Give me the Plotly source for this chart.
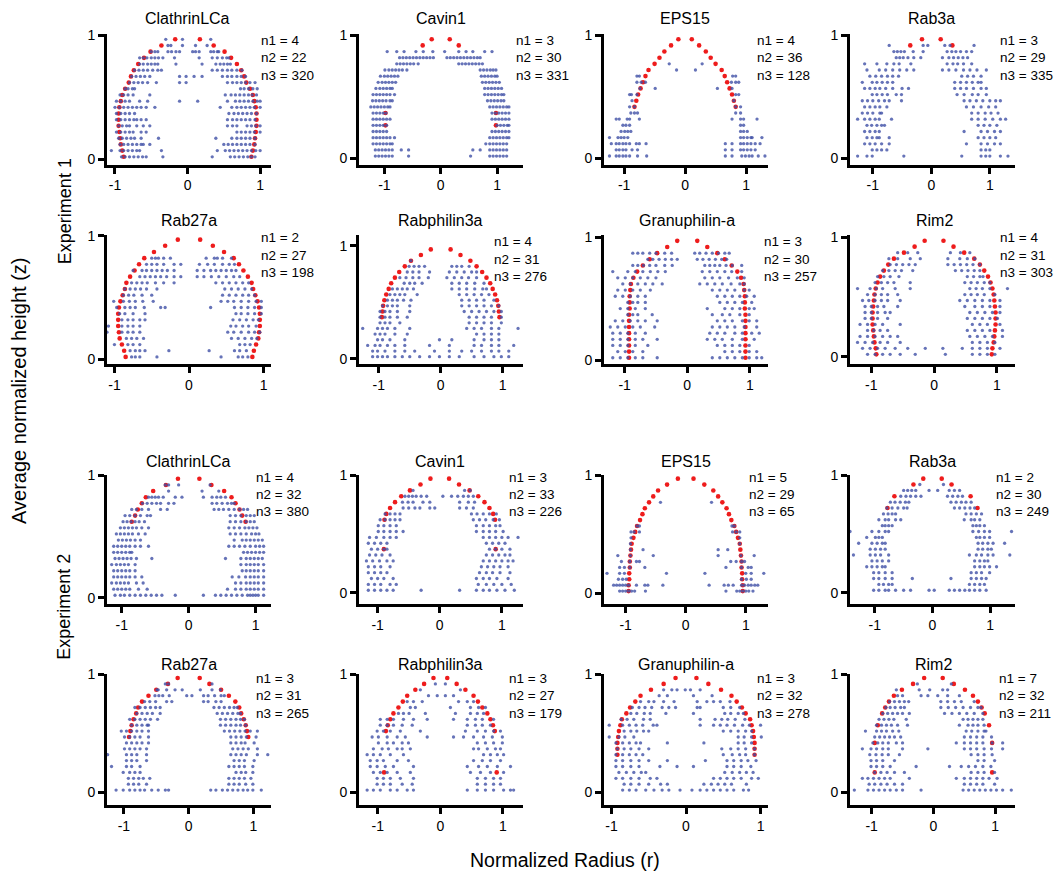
import plotly.graph_objects as go

# ---------------- data ----------------
Z_LEVELS = [0.02, 0.07, 0.12, 0.17, 0.22, 0.27, 0.32, 0.37, 0.42, 0.47,
            0.52, 0.57, 0.62, 0.67, 0.72, 0.77, 0.82, 0.87, 0.92, 0.97]

TITLES = ["ClathrinLCa", "Cavin1", "EPS15", "Rab3a",
          "Rab27a", "Rabphilin3a", "Granuphilin-a", "Rim2",
          "ClathrinLCa", "Cavin1", "EPS15", "Rab3a",
          "Rab27a", "Rabphilin3a", "Granuphilin-a", "Rim2"]

N1 = [4, 3, 4, 3, 2, 4, 3, 4, 4, 3, 5, 2, 3, 3, 3, 7]
N2 = [22, 30, 36, 29, 27, 31, 30, 31, 32, 33, 29, 30, 31, 27, 32, 32]
N3 = [320, 331, 128, 335, 198, 276, 257, 303, 380, 226, 65, 249, 265, 179, 278, 211]

X_RANGES = [[-1.11, 1.15], [-1.45, 1.46], [-1.33, 1.36], [-1.39, 1.43],
            [-1.10, 1.10], [-1.32, 1.33], [-1.33, 1.29], [-1.34, 1.29],
            [-1.22, 1.23], [-1.30, 1.34], [-1.36, 1.37], [-1.43, 1.43],
            [-1.26, 1.27], [-1.30, 1.32], [-1.10, 1.10], [-1.35, 1.32]]
Y_RANGES = [[-0.043, 1.01], [-0.049, 1.01], [-0.05, 1.01], [-0.049, 1.01],
            [-0.037, 1.01], [-0.044, 1.10], [-0.03, 1.02], [-0.06, 1.02],
            [-0.054, 1.0], [-0.10, 1.0], [-0.092, 1.0], [-0.10, 1.0],
            [-0.104, 1.0], [-0.104, 1.0], [-0.104, 1.0], [-0.104, 1.0]]

# red profile: radius (x100) per z level, bottom to top (drawn at -r and +r);
# None where no red mark is visible
N_ = None
RED_R = [
    [88, 90, 92, 93, 94, 95, 95, 95, 94, 92, 90, 86, 81, 78, 74, 68, 60, 51, 36, 17],
    [N_, N_, N_, N_, N_, 98, N_, 98, N_, N_, N_, N_, N_, N_, N_, N_, N_, N_, 32, 16],
    [N_, N_, N_, N_, N_, N_, N_, N_, 83, 80, 77, 73, 69, 65, 60, 50, 42, 34, 23, 11],
    [N_, N_, N_, N_, N_, N_, N_, N_, N_, N_, N_, N_, N_, N_, N_, N_, N_, N_, 36, 16],
    [85, 87, 90, 93, 94, 95, 95, 95, 94, 92, 89, 86, 84, 79, 73, 67, 60, 47, 32, 15],
    [N_, N_, N_, N_, N_, N_, N_, 95, 94, 93, 91, 88, 84, 80, 74, 67, 58, 48, 32, 16],
    [93, 93, 93, 93, 93, 93, 93, 93, 92, 92, 92, 91, 90, 86, 80, 71, 60, 48, 32, 16],
    [92, 93, 95, 96, 97, 98, 98, 98, 97, 96, 95, 93, 90, 86, 80, 73, 64, 48, 31, 15],
    [N_, N_, N_, N_, N_, N_, N_, N_, N_, N_, N_, N_, 85, 80, 76, 70, 64, 53, 34, 16],
    [N_, N_, N_, N_, N_, N_, N_, 90, N_, N_, N_, N_, 89, 86, 80, 72, 62, 48, 31, 15],
    [95, 95, 94, 94, 93, 93, 92, 91, 90, 87, 84, 81, 76, 72, 68, 61, 54, 46, 31, 13],
    [N_, N_, N_, N_, N_, N_, N_, N_, N_, N_, N_, N_, N_, N_, 78, N_, 66, N_, 33, 16],
    [N_, N_, N_, N_, N_, N_, N_, N_, N_, 92, 90, 88, 85, 81, 78, 72, 62, 50, 32, 17],
    [N_, N_, N_, 90, N_, N_, N_, N_, N_, N_, 87, 84, 80, 75, 67, 60, 53, 40, 26, 11],
    [N_, N_, N_, N_, N_, N_, 92, 92, 92, 91, 90, 88, 86, 80, 75, 68, 61, 47, 30, 14],
    [N_, N_, N_, 95, N_, N_, N_, N_, 95, N_, N_, 90, N_, 83, 78, 72, 64, 51, 33, 15],
]

# blue points: per z level (bottom to top), radius values x100
CLATHRIN_E1 = [
    "-91 -86 -80 -74 -68 -62 -57 -34 34 59 65 71 77 83 88 93",
    "-105 -93 -88 -82 -76 -70 -66 -36 41 52 58 64 70 76 82 88 94 100",
    "-93 -88 -82 -76 -70 -64 -61 -52 50 56 62 68 74 80 86 93",
    "-95 -90 -84 -78 -73 -64 -40 39 61 68 74 80 86 93",
    "-98 -92 -86 -80 -75 -64 -57 68 74 80 86 92 100",
    "-95 -90 -84 -80 -70 -61 -52 55 62 68 82 88 94 100",
    "-98 -92 -86 -80 -74 -70 -64 -57 55 62 68 74 80 86 93",
    "-98 -92 -86 -80 -73 57 64 70 76 82 88 95",
    "-100 -94 -88 -82 -76 -70 -64 -57 -45 45 61 68 74 80 86 92 100",
    "-98 -92 -86 -80 -66 -55 -11 14 55 66 72 78 84 90 96 100",
    "-93 -88 -82 -75 -52 52 60 66 72 78 84 89 95",
    "-86 -82 -76 -73 73 78 84 90 96",
    "-80 -74 -68 -62 -55 -43 -11 -2 55 62 68 74 80 86 93",
    "-77 -71 -65 -59 -52 -11 -2 9 20 48 55 61 68 74 80",
    "-73 -67 -61 -55 -48 -41 -36 34 41 48 55 61 68 75",
    "-66 -61 -55 -50 -45 -41 -16 20 39 45 50 55 59",
    "-66 -61 -56 -50 -45 -40 -34 -18 16 34 41 48 54 57",
    "-50 -45 -41 -27 -22 -16 -11 7 11 16 32 36 41 43",
    "-27 -23 -7 11 27",
    "-30 -7 32",
]
CAVIN_E1 = [
    "-116 -110 -104 -98 -92 -86 -57 53 87 93 99 105 111 117",
    "-116 -110 -104 -98 -92 -86 -70 -57 57 70 87 93 99 105 111 117",
    "-120 -114 -108 -102 -96 -90 -86 80 87 93 99 105 111 117",
    "-120 -114 -108 -102 -96 -90 -82 87 93 99 105 111 117 121",
    "-120 -114 -108 -102 -96 91 97 103 109 115 121",
    "-120 -114 -108 -102 -96 100 106 112 118 121",
    "-120 -114 -108 -102 -96 -90 91 97 103 109 115 121",
    "-120 -114 -108 -102 -97 91 97 103 109 115 121",
    "-124 -118 -112 -106 -100 -94 -90 87 93 99 105 111 117 121",
    "-121 -115 -109 -103 -97 -90 -86 83 89 95 101 107 112",
    "-120 -114 -108 -102 -96 -90 -82 78 84 90 96 102 108 112",
    "-115 -108 -102 -96 -90 -86 78 84 90 96 102 108",
    "-111 -104 -98 -92 -86 -80 74 80 86 92 98 104",
    "-107 -100 -94 -88 -82 -76 72 78 84 90 96 100",
    "-99 -92 -86 -80 -74 -68 -60 70 76 82 88 93 98",
    "-78 -72 -66 -60 -54 -48 -40 32 38 44 50 56 62 68 74",
    "-73 -67 -61 -55 -49 -43 -37 -31 -25 -19 -13 11 17 23 29 35 41 47 53 59 65 70",
    "-95 -78 -65 -44 -31 -14 7 32 45 57 78 91",
    "",
    "",
]
EPS15_E1 = [
    "-124 -113 -108 -102 -97 -91 -78 -63 66 77 93 99 105 110 120 131",
    "-113 -108 -102 -97 -87 -78 66 77 91 96 102 108 115",
    "-121 -113 -108 -102 -97 -91 -80 -75 -64 66 77 91 96 102 108 115 123",
    "-124 -110 -105 -100 -94 91 96 102 108 110 126",
    "-105 -99 -94 -89 91 96 102",
    "-102 -97 -91 91 96",
    "-113 -108 -95 -91 -75 77 91 96 118",
    "-89 -83 -78 83 91",
    "-91 -83 83 91",
    "-87 80",
    "-91 -88 -79 83 88",
    "-74 -49 53 77",
    "-79 -72 -65 76 83 88",
    "-79 -75 78 83",
    "-14 17",
    "-26 28",
    "", "", "", "",
]
RAB3A_E1 = [
    "-126 -110 -101 -47 52 85 93 100 118 131",
    "-101 -93 -85 -76 85 93 100",
    "-114 -105 -96 -85 -72 60 85 96 108 118",
    "-110 -101 -93 -89 -72 80 90 100 110",
    "-114 -105 -96 -89 56 85 96 108 118",
    "-110 -102 -93 -85 -80 80 90 100 112",
    "-126 -114 -105 -96 -89 -68 69 80 92 105 118 127",
    "-118 -109 -100 -88 -85 69 80 92 102 114",
    "-114 -105 -96 -88 -76 60 72 85 98 110",
    "-118 -109 -100 -90 -80 -72 -51 56 66 77 88 100 110 118",
    "-101 -93 -84 -75 -60 -51 44 56 70 80 94",
    "-114 -105 -96 -88 -78 -66 -50 -39 40 50 60 72 85 94",
    "-118 -101 -93 -84 -75 -66 40 50 60 70 80 85",
    "-105 -95 -85 -75 -66 -56 52 62 72 85",
    "-110 -89 -78 -66 -54 -42 -30 19 30 42 55 66 78 94",
    "-114 -93 -76 -64 -55 -35 27 37 45 55 69",
    "-60 -54 -48 -40 -30 -18 19 30 38 46 54 62",
    "-64 -58 -52 -46 -31 -14 27 35 42 50 60 69",
    "-72 -14 -6 23 32 73",
    "",
]
RAB27A_E1 = [
    "-77 -72 -66 -43 43 66 72 79",
    "-79 -72 -66 -59 -27 27 61 68 77",
    "-100 -82 -75 -66 68 75 82",
    "-84 -77 -70 -61 57 66 75 84 91",
    "-110 -90 -82 -75 -66 52 60 70 80 88 95",
    "-108 -90 -82 -75 -66 56 63 72 80 90",
    "-90 -82 -75 -66 -59 59 68 77 86 93",
    "-93 -86 -75 -59 63 70 79 88 97",
    "-97 -86 -79 -72 -60 -38 -32 29 61 70 79 88 97",
    "-101 -88 -80 -72 -62 -48 43 52 60 70 80 90 97",
    "-88 -81 -74 -63 -50 45 54 63 72 80 88",
    "-86 -79 -72 -65 -57 -43 48 57 66 75 84",
    "-77 -70 -63 -56 -45 -34 -20 36 45 54 63 72 80",
    "-66 -59 -52 -45 -38 -30 -20 -11 11 20 30 40 50 60 68",
    "-75 -63 -57 -50 -43 -36 -29 -20 11 20 29 36 43 50 57 63",
    "-57 -50 -43 -34 -20 -11 14 25 34 45 54 61",
    "-50 -45 -41 -34 -25 23 34 38 45 57",
    "", "", "",
]
RABPHILIN_E1 = [
    "-110 -102 -94 -86 -74 -62 -50 -34 -18 -2 14 30 54 70 86 98 110",
    "-110 -102 -90 -74 -58 -42 -10 14 34 50 66 82 94 110",
    "-118 -106 -98 -86 -74 -58 -18 14 54 66 82 94 118",
    "-102 -94 -82 -58 -2 18 54 70 82 94",
    "-106 -98 -90 -74 -54 58 70 82 94",
    "-126 -102 -94 -86 -74 -50 42 54 66 82 94 125",
    "-98 -90 -82 -66 46 58 70 82 98",
    "-98 -90 -82 -70 -54 46 58 70 82 98",
    "-98 -90 -82 -70 -50 38 50 62 74 86 98",
    "-94 -86 -78 -70 -50 34 46 58 70 82 94",
    "-86 -78 -70 -60 -48 34 46 58 70 86",
    "-82 -74 -66 -58 -38 30 42 54 66 78",
    "-78 -70 -62 -54 -44 18 30 42 55 68 74",
    "-59 -50 -42 -30 18 30 42 55 70",
    "-66 -56 -45 -35 -20 10 22 34 45 58",
    "-54 -45 -35 -18 14 26 38 50 58",
    "-51 -43 -35 -26 18 26 34 46",
    "-48",
    "", "",
]
GRANUPHILIN_E1 = [
    "-119 -107 -95 -83 -71 -48 40 52 64 76 88 99 111 119",
    "-111 -99 -87 -71 60 72 84 99 111",
    "-119 -107 -95 -83 -63 48 60 72 84 99",
    "-119 -107 -95 -83 -71 -48 32 44 56 72 88 107",
    "-119 -107 -95 -83 -67 36 48 60 76 88 103 115",
    "-123 -111 -99 -87 -75 -52 40 52 64 76 91 111",
    "-115 -103 -91 -79 -67 -48 48 60 72 88 99 111",
    "-95 -87 -79 -56 40 56 68 84 99",
    "-107 -95 -83 -67 32 60 72 84 99 107",
    "-95 -87 -79 -67 52 64 76 88 103",
    "-115 -103 -91 -79 -67 48 60 72 84 95 107",
    "-111 -99 -87 -75 -59 40 52 64 76 91 99",
    "-103 -91 -79 -67 -55 -40 20 32 44 56 70 84 91",
    "-111 -99 -87 -75 -63 -50 28 40 52 66 80 91",
    "-119 -95 -83 -71 -59 -47 -35 24 36 48 60 71 87",
    "-87 -79 -70 -60 -50 -36 -24 28 36 44 52 62 72 87",
    "-63 -55 -45 -35 -25 -16 16 25 35 45 55 63",
    "-87 -79 -71 -60 -50 -36 -25 12 20 30 40 50 60 67",
    "", "",
]
RIM2_E1 = [
    "-106 -94 -82 -70 -54 -30 18 61 73 85 97",
    "-114 -102 -90 -78 -62 -42 -14 14 45 61 73 85 105",
    "-122 -110 -98 -86 -74 -54 61 73 85 97",
    "-118 -106 -94 -82 -70 -58 57 69 81 93 109",
    "-106 -96 -86 -74 53 65 77 89 109",
    "-118 -106 -94 -82 -54 61 73 85 105",
    "-110 -100 -90 -74 53 65 77 89 101",
    "-110 -100 -90 -78 -70 57 69 81 93 105",
    "-110 -100 -90 -80 -58 49 65 77 89 105",
    "-114 -104 -94 -84 -74 -54 41 53 65 77 89 105",
    "-106 -94 -84 -74 -58 49 59 69 80 97",
    "-122 -102 -92 -82 -62 -38 57 67 77 89 117",
    "-94 -84 -74 -64 -38 49 59 69 80 89",
    "-90 -80 -70 -56 53 63 73 78",
    "-82 -72 -62 -52 -34 34 44 54 64 73",
    "-70 -60 -50 -40 -30 22 32 42 52 62 73",
    "-72 -58 -38 -22 22 41 53 65",
    "-58 -42 -26 26 42 57",
    "", "",
]
CLATHRIN_E2 = [
    "-110 -102 -96 -88 -80 -72 -64 -56 -48 -40 -20 22 40 48 56 64 72 80 88 92 96 100 104 112",
    "-112 -106 -100 -94 -88 -75 -62 58 70 78 86 92 98 104 112",
    "-115 -108 -102 -96 -90 -78 -68 70 78 86 92 98 104 112",
    "-112 -106 -100 -94 -88 -80 -70 65 75 85 92 98 104 112",
    "-112 -106 -100 -94 -88 -80 80 86 92 98 104 112",
    "-115 -108 -102 -96 -90 -80 78 86 92 98 104 112",
    "-110 -104 -98 -92 -86 -78 -55 55 78 86 92 98 104 110",
    "-112 -106 -100 -94 -88 -85 82 88 94 100 106 112",
    "-112 -106 -100 -94 -88 -80 -72 -60 60 68 76 84 92 100 106 112",
    "-105 -99 -93 -87 -80 -72 68 80 86 92 98 104 110",
    "-108 -102 -96 -90 -84 -75 -65 62 70 78 86 94 100 105",
    "-102 -96 -90 -84 -78 -70 -60 60 68 76 84 90 96 102",
    "-98 -92 -86 -80 -74 -66 62 70 78 86 92 98",
    "-95 -88 -80 -72 -62 -57 62 70 78 86 92 98",
    "-85 -78 -70 -60 -42 -32 38 45 52 60 68 76 82 88",
    "-69 -62 -55 -48 -42 -30 -22 35 42 50 58 64 68",
    "-60 -55 -50 -45 -38 -20 -10 22 35 42 48 55",
    "-30 20 45",
    "-35 -30 -15 32",
    "",
]
CAVIN_E2 = [
    "-115 -105 -95 -85 -75 -30 32 59 70 80 92 105 120",
    "-115 -105 -95 -80 -70 62 75 87 100 115",
    "-110 -100 -90 -75 59 70 80 92 110",
    "-115 -105 -95 -85 64 75 85 97 113",
    "-115 -105 -95 -80 67 77 87 97 110",
    "-118 -108 -97 -85 -75 70 80 90 100 110 118",
    "-113 -103 -93 -80 75 85 95 105 113",
    "-110 -100 -90 -85 80 90 100 113",
    "-115 -105 -95 -85 75 85 95 105",
    "-113 -102 -90 -80 -70 70 80 90 100 110 126",
    "-99 -90 -80 -70 -59 59 70 80 90 102",
    "-99 -90 -80 -70 59 70 80 90 97",
    "-96 -88 -80 -72 -64 54 64 74 86 96",
    "-88 -80 -72 -64 51 60 70 80 91",
    "-59 -50 -40 -32 -16 -8 32 43 54",
    "-60 -51 -43 -27 -16 32 46 56",
    "-56 -50 -44 -38 -30 -21 5 19 29 38 46 54",
    "-43 40 49",
    "", "",
]
EPS15_E2 = [
    "-110 -105 -100 -95 -90 -85 -67 67 85 90 95 100 105 112",
    "-120 -115 -110 -105 -100 -95 -82 -68 -63 -38 39 64 71 79 93 98 104 109 115 120",
    "-112 -105 -99 93 101 109",
    "-131 -110 -102 -32 32 100 109 130",
    "-110 -102 -93 -68 67 93 104 109",
    "-107 -93 -82 -77 75 84 93 98",
    "-113 -92 -54 54 92 114",
    "-92 -71 54 70",
    "-92 90",
    "-91 90",
    "-91 -86 -77 78 84 90",
    "-81 -77 77 81",
    "", "", "",
    "-42 43",
    "", "", "", "",
]
RAB3A_E2 = [
    "-102 -93 -82 -76 -64 -50 -38 -6 3 29 38 47 56 64 73 82 93",
    "-93 -85 -76 -70 64 73 82 90",
    "-102 -93 -82 -70 -35 32 67 76 85 93",
    "-102 -93 -82 -70 67 76 85 99",
    "-114 -105 -96 -87 -82 73 82 90 99 111",
    "-105 -96 -87 -76 73 82 90 96",
    "-137 -108 -99 -90 -76 64 76 85 96 105 134",
    "-108 -99 -90 -82 79 87 96 102",
    "-128 -105 -96 -87 -82 79 87 96 105 125",
    "-114 -99 -93 -87 76 82 90 99",
    "-143 -105 -93 -82 -76 70 80 90 99 137",
    "-87 -82 -76 -70 70 76 82 90",
    "-93 -82 -76 -64 -55 55 67 73 82",
    "-85 -77 -70 -64 58 67 76 85",
    "-79 -70 -60 -50 -44 38 47 56 65 73",
    "-73 -65 -56 -47 -41 32 41 50 58 67",
    "-55 -46 -38 -29 -20 26 35 44 52",
    "-50 -43 -36 -29 -6 9 29 38 47",
    "-22 19",
    "",
]
RAB27A_E2 = [
    "-112 -101 -91 -83 -75 -68 -57 -47 -36 -31 34 42 52 60 68 76 84 91 99 112",
    "-93 -85 -77 -65 62 70 78 88 99",
    "-93 -85 -77 -70 -60 62 70 78 86 96",
    "-101 -91 -83 -75 73 81 88 99",
    "-119 -96 -88 -75 62 70 78 86 99",
    "-96 -88 -80 -65 70 78 86 101",
    "-125 -96 -88 -80 -65 65 73 81 89 106 122",
    "-99 -91 -83 -75 -65 68 76 84 92 106",
    "-96 -88 -80 -72 -62 65 73 81 87 101",
    "-99 -91 -83 -75 -62 65 73 81 89 104",
    "-104 -96 -88 -80 -72 -62 55 63 71 79 87 95 106",
    "-88 -80 -72 -64 -62 49 57 65 73 80 88",
    "-91 -83 -75 -67 -59 -48 49 57 65 73 80 86",
    "-80 -72 -64 -56 -44 44 52 60 68 76 80",
    "-83 -75 -67 -59 -51 -44 39 47 55 63 70 75",
    "-68 -60 -51 -34 -26 23 30 42 50",
    "-52 -46 -40 -30 -3 5 23 30 40 50 55",
    "-49 -47 -34 -21 -10 18 36 49",
    "-36 -31 36",
    "",
]
RABPHILIN_E2 = [
    "-117 -107 -96 -80 -69 -53 -43 43 59 72 85 101 112 117",
    "-101 -91 -80 -61 -45 59 72 85 96",
    "-101 -91 -80 -64 -43 59 72 85 96",
    "-107 -96 -85 -69 -48 48 64 80 101",
    "-112 -101 -88 -75 -43 43 61 75 91 112",
    "-112 -101 -91 -69 -51 53 67 80 96",
    "-117 -107 -96 -80 -59 69 80 91 101",
    "-107 -93 -83 -69 -61 -48 53 61 75 88 96",
    "-99 -85 -75 -61 -51 59 72 85 99",
    "-109 -99 -85 -69 -56 -21 21 37 53 69 83 99",
    "-101 -91 -80 -64 -32 40 59 72 85 96",
    "-96 -85 -75 -61 -45 43 56 67 80",
    "-96 -85 -75 -59 -43 -21 21 43 56 67 85",
    "-67 -59 -50 -24 24 48 59 69",
    "-48 -40 16 48 61 72",
    "-53 -43 -29 29 43 53",
    "-19 -5 8 21",
    "-32 32",
    "-8 8",
    "",
]
GRANUPHILIN_E2 = [
    "-85 -76 -67 -54 -43 -32 -23 -8 8 19 28 37 46 55 64 77 84",
    "-83 -74 -63 -50 -34 -25 24 34 43 52 61 81",
    "-94 -85 -74 -63 -48 -39 37 46 55 64 74 88 97",
    "-90 -80 -70 -60 -54 52 62 72 81 90",
    "-94 -85 -74 -63 -35 -12 10 55 64 74 87",
    "-94 -85 -74 -63 -50 -25 26 55 64 74 83 94",
    "-94 -85 -76 -67 -58 50 62 72 80 92",
    "-92 -83 -74 -63 -50 48 60 70 80 92",
    "-94 -85 -76 -67 -61 -25 24 70 78 88",
    "-103 -90 -82 -70 70 78 88 101",
    "-83 -74 -66 -57 -50 50 60 70 80 88",
    "-103 -85 -76 -67 -58 -44 -39 19 37 46 55 65 76 85 100",
    "-87 -79 -70 -57 -48 19 39 48 56 66 79",
    "-74 -66 -56 -48 -27 10 52 60 70 77",
    "-72 -63 -55 -46 -32 -23 -14 15 19 50 60 72",
    "-61 -50 -43 -30 -16 15 28 37 46 59",
    "-36 -25 10 35",
    "-30 -19 -12 -1 6 19",
    "", "",
]
RIM2_E2 = [
    "-128 -106 -97 -88 -79 -70 -60 -50 -20 48 57 66 75 84 93 102 112 126",
    "-104 -95 -85 -75 -63 -50 50 60 70 80 99",
    "-115 -106 -97 -88 -79 -70 -39 37 50 60 70 80 90 103",
    "-95 -85 -75 -63 -47 61 72 82 99",
    "-101 -92 -82 -70 -28 26 45 57 68 80 93",
    "-101 -92 -82 -63 72 82 99",
    "-103 -93 -83 -73 -55 61 72 82 95",
    "-115 -101 -92 -82 -73 -50 -9 50 60 70 82 94 112",
    "-98 -90 -82 -73 -60 -50 37 50 60 70 80 95 112",
    "-95 -87 -79 -71 -63 -53 50 60 70 80 94",
    "-110 -92 -84 -76 -66 -56 53 62 72 82 85",
    "-92 -84 -76 -68 -58 -42 42 56 64 72 82",
    "-88 -80 -72 -64 -44 48 56 64 72 80",
    "-82 -74 -66 -58 -50 -39 18 30 42 54 66 80",
    "-77 -70 -62 -53 -47 12 24 36 48 60 72 77",
    "-71 -63 -55 -47 -40 12 23 34 45 66",
    "-58 -50 -20 -9 7 23 42",
    "-60 -23 -6 15 23",
    "-26 29",
    "",
]

BLUE = [CLATHRIN_E1, CAVIN_E1, EPS15_E1, RAB3A_E1,
        RAB27A_E1, RABPHILIN_E1, GRANUPHILIN_E1, RIM2_E1,
        CLATHRIN_E2, CAVIN_E2, EPS15_E2, RAB3A_E2,
        RAB27A_E2, RABPHILIN_E2, GRANUPHILIN_E2, RIM2_E2]

# ---------------- layout constants ----------------
W, H = 1057, 872


def ypaper(t):
    """target picture row (px from top) -> paper fraction (compensates page capture)"""
    page = (t - 7.7) / 0.9845
    return 1 - page / H


COL_PX = [(107, 271), (359, 523), (604, 768), (850, 1015)]
ROW_PX = [(34, 164), (234, 363), (474, 603), (673, 803)]
TITLE_Y = [18, 220, 460, 663]
NLAB_X = [[259, 514, 755, 998], [259, 492, 762, 998],
          [254, 507, 747, 994], [254, 507, 755, 997]]
NLAB_Y = [[40, 40, 40, 40], [237, 241, 241, 237],
          [476, 476, 476, 476], [677, 677, 677, 677]]
FONT = "Arial, Liberation Sans, sans-serif"
BLUE_COLOR = "#4050a6"
RED_COLOR = "#ee1c1c"

fig = go.Figure()
annotations = []

for i in range(16):
    row, col = divmod(i, 4)
    sfx = "" if i == 0 else str(i + 1)
    xa, ya = "x" + sfx, "y" + sfx

    # red profile
    rx, rz = [], []
    for k, r in enumerate(RED_R[i]):
        if r is None:
            continue
        rx += [-r / 100, r / 100]
        rz += [Z_LEVELS[k], Z_LEVELS[k]]
    fig.add_trace(go.Scatter(x=rx, y=rz, mode="markers", xaxis=xa, yaxis=ya,
                             marker=dict(color=RED_COLOR, size=4.6, line=dict(width=0)),
                             showlegend=False, hoverinfo="skip"))
    # blue points
    bx, bz = [], []
    for k, s in enumerate(BLUE[i]):
        for v in s.split():
            bx.append(int(v) / 100)
            bz.append(Z_LEVELS[k])
    fig.add_trace(go.Scatter(x=bx, y=bz, mode="markers", xaxis=xa, yaxis=ya,
                             marker=dict(color=BLUE_COLOR, size=3.3, opacity=0.8,
                                         line=dict(width=0)),
                             showlegend=False, hoverinfo="skip"))

    l, r = COL_PX[col]
    t, b = ROW_PX[row]
    axis_common = dict(showline=True, linewidth=3, linecolor="black", mirror=False,
                       ticks="outside", ticklen=6, tickwidth=3, tickcolor="black",
                       showgrid=False, zeroline=False,
                       tickfont=dict(family=FONT, size=14, color="black"))
    fig.layout["xaxis" + sfx] = dict(
        domain=[l / W, r / W], anchor=ya, range=X_RANGES[i],
        tickvals=[-1, 0, 1], ticktext=["-1", "0", "1"], **axis_common)
    fig.layout["yaxis" + sfx] = dict(
        domain=[ypaper(b), ypaper(t)], anchor=xa, range=Y_RANGES[i],
        tickvals=[0, 1], ticktext=["0", "1"], **axis_common)

    annotations.append(dict(text=TITLES[i], xref=xa, x=0, yref="paper",
                            y=ypaper(TITLE_Y[row]), xanchor="center", yanchor="middle",
                            showarrow=False, font=dict(family=FONT, size=16, color="black")))
    for j, txt in enumerate([f"n1 = {N1[i]}", f"n2 = {N2[i]}", f"n3 = {N3[i]}"]):
        annotations.append(dict(text=txt, xref="paper", x=NLAB_X[row][col] / W,
                                yref="paper", y=ypaper(NLAB_Y[row][col] + 17.3 * j),
                                xanchor="left", yanchor="middle", showarrow=False,
                                font=dict(family=FONT, size=13.5, color="black")))

annotations += [
    dict(text="Average normalized height (z)", xref="paper", yref="paper",
         x=19 / W, y=ypaper(390), textangle=-90, showarrow=False,
         xanchor="center", yanchor="middle", font=dict(family=FONT, size=20, color="black")),
    dict(text="Experiment 1", xref="paper", yref="paper",
         x=64.5 / W, y=ypaper(211), textangle=-90, showarrow=False,
         xanchor="center", yanchor="middle", font=dict(family=FONT, size=18, color="black")),
    dict(text="Experiment 2", xref="paper", yref="paper",
         x=64.5 / W, y=ypaper(606), textangle=-90, showarrow=False,
         xanchor="center", yanchor="middle", font=dict(family=FONT, size=18, color="black")),
    dict(text="Normalized Radius (r)", xref="paper", yref="paper",
         x=565 / W, y=ypaper(858), showarrow=False,
         xanchor="center", yanchor="middle", font=dict(family=FONT, size=19.5, color="black")),
]

fig.update_layout(width=W, height=H, margin=dict(l=0, r=0, t=0, b=0),
                  paper_bgcolor="white", plot_bgcolor="white",
                  annotations=annotations, showlegend=False)

fig.write_html("out.html", config={"displayModeBar": False},
               post_script="document.body.style.margin='0px';document.body.style.padding='0px';")
